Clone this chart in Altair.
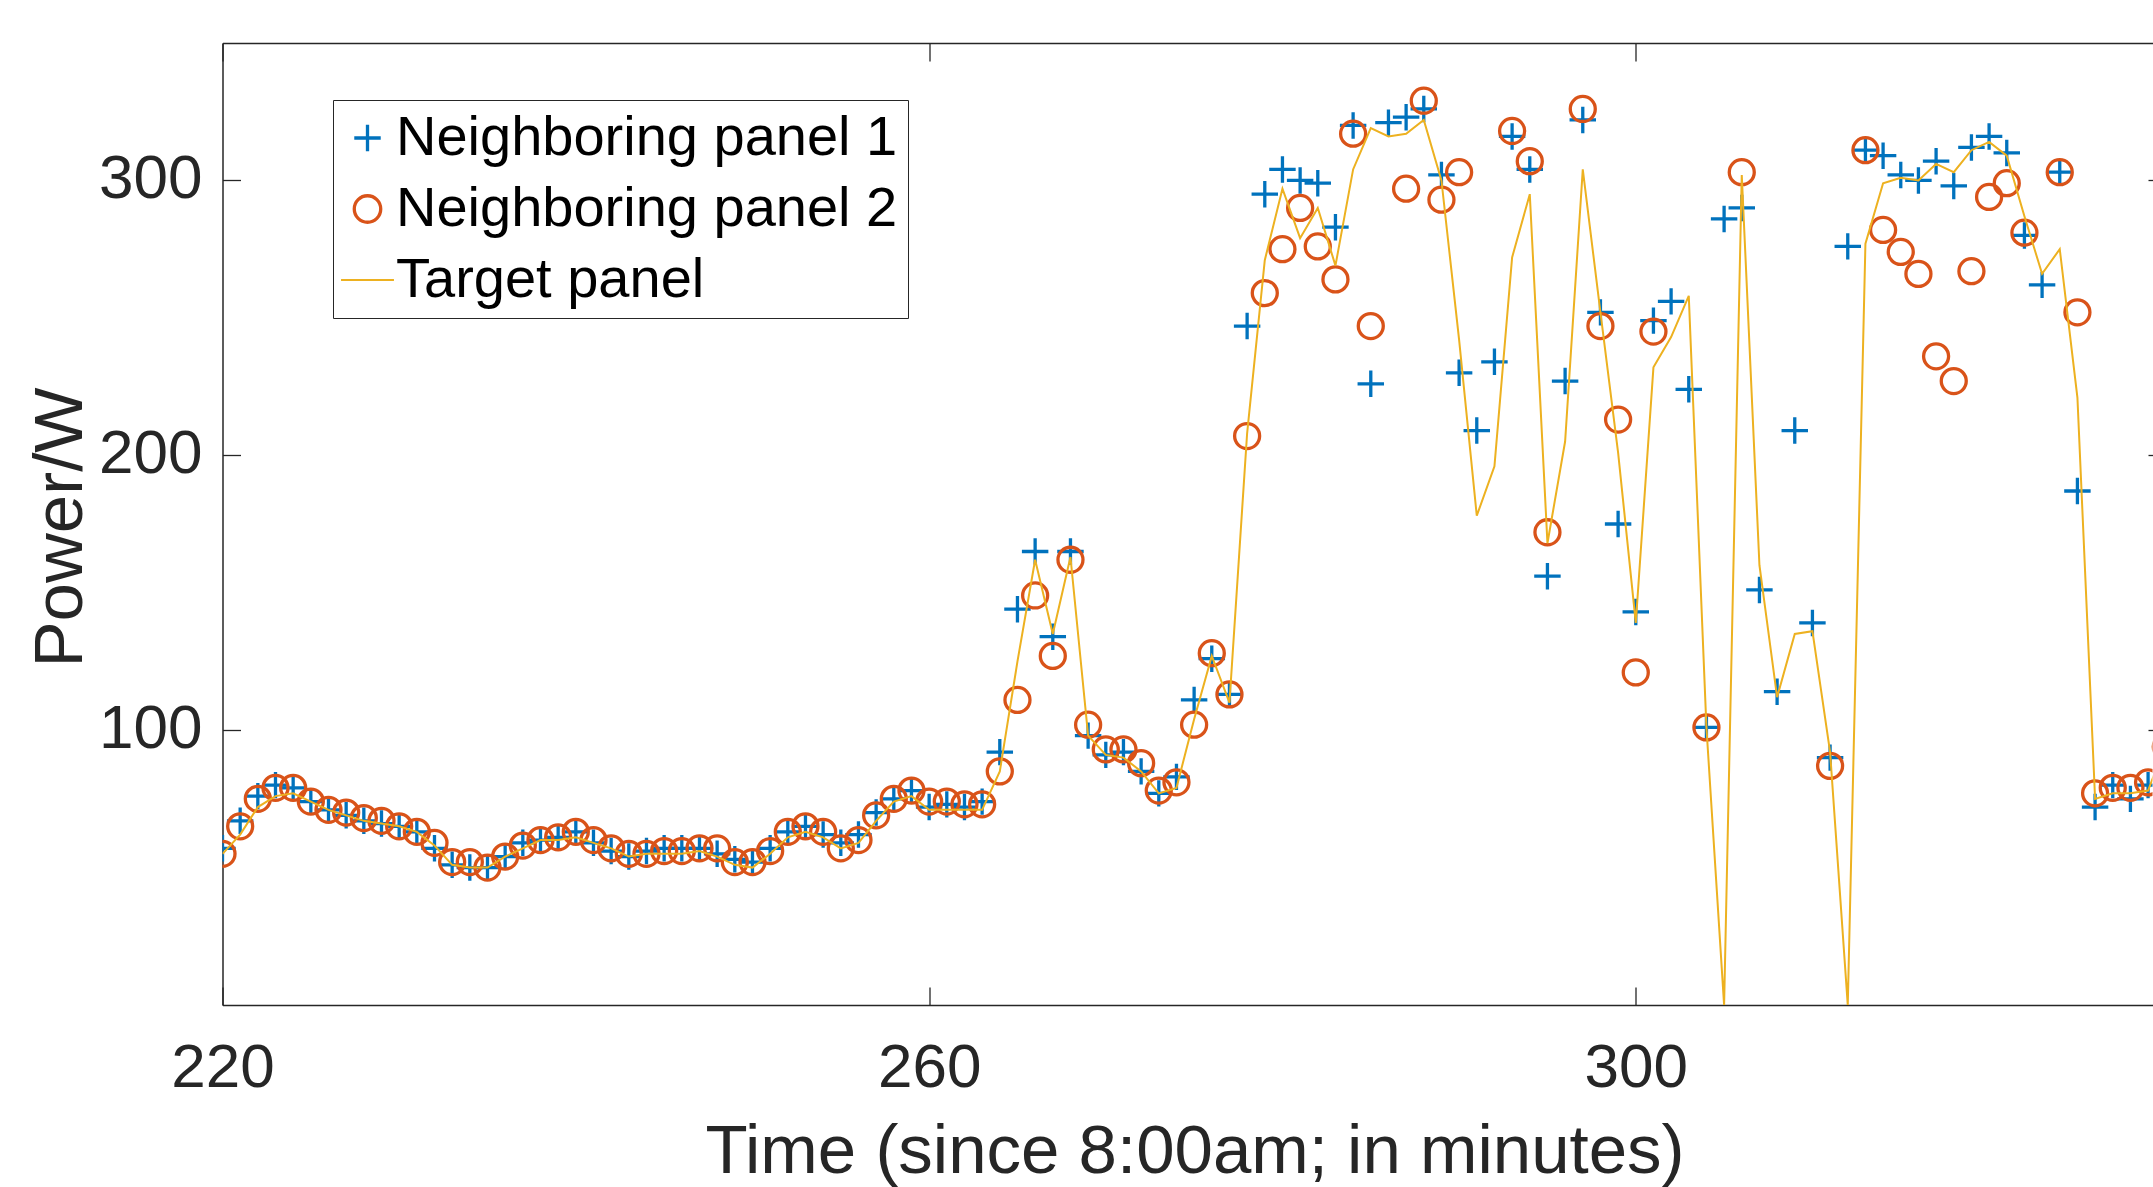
import altair as alt
import pandas as pd

minutes = list(range(220, 331))

names = ["Neighboring panel 1", "Neighboring panel 2", "Target panel"]

panel1 = [57, 67, 76, 80, 79, 74, 71, 69, 67, 66,
          65, 63, 57, 51, 50, 50, 54, 59, 60, 61,
          63, 59, 56, 54, 56, 57, 57, 57, 55, 53,
          52, 57, 63, 65, 62, 59, 62, 70, 75, 78,
          72, 73, 72, 74, 92, 144, 165, 134, 165, 98,
          91, 92, 85, 77, 83, 111, 126, 113, 247, 295,
          304, 300, 299, 283, 320, 226, 321, 323, 326, 302,
          230, 209, 234, 316, 304, 156, 227, 322, 252, 175,
          143, 249, 256, 224, 101, 286, 290, 151, 114, 209,
          139, 90, 276, 311, 309, 302, 300, 307, 298, 312,
          316, 310, 280, 262, 303, 187, 72, 80, 75, 80,
          None]

panel2 = [55, 65, 75, 79, 79, 74, 71, 70, 68, 67,
          65, 63, 59, 52, 52, 50, 54, 58, 60, 61,
          63, 60, 57, 55, 55, 56, 56, 57, 57, 52,
          52, 56, 63, 65, 63, 57, 60, 69, 75, 78,
          74, 74, 73, 73, 85, 111, 149, 127, 162, 102,
          93, 93, 88, 78, 81, 102, 128, 113, 207, 259,
          275, 290, 276, 264, 317, 247, None, 297, 329, 293,
          303, None, None, 318, 307, 172, None, 326, 247, 213,
          121, 245, None, None, 101, None, 303, None, None, None,
          None, 87, None, 311, 282, 274, 266, 236, 227, 267,
          294, 299, 281, None, 303, 252, 77, 79, 79, 81,
          94]

target = [55, 62, 72, 76, 77, 74, 71, 69, 67, 66,
          65, 63, 58, 51, 50, 50, 54, 57, 60, 60,
          61, 59, 57, 54, 55, 55, 55, 56, 54, 51,
          50, 55, 61, 63, 61, 57, 59, 67, 74, 76,
          71, 71, 71, 71, 85, 125, 162, 135, 163, 98,
          91, 90, 85, 77, 79, 104, 127, 110, 208, 271,
          297, 279, 290, 269, 304, 319, 316, 317, 322, 300,
          242, 178, 196, 272, 295, 168, 205, 304, 252, 201,
          139, 232, 243, 258, 101, 0, 302, 160, 112, 135,
          136, 92, 0, 277, 299, 301, 300, 306, 303, 311,
          314, 309, 287, 266, 275, 221, 75, 77, 77, 78,
          95]

x_ticks = [220, 260, 300]
y_ticks = [100, 200, 300]

colors = ["#0072BD", "#D95319", "#EDB120"]
shapes = ["M-1,0H1M0,-1V1", "circle", "M-2,0H2"]

rows = []
for name, vals in zip(names, [panel1, panel2, target]):
    for t, v in zip(minutes, vals):
        if v is not None:
            rows.append({"t": t, "power": v, "series": name})
df = pd.DataFrame(rows)

FONT = "Liberation Sans"
AX = "#262626"
W, H = 1930, 962

xscale = alt.Scale(domain=[220, 329.25], nice=False, zero=False)
yscale = alt.Scale(domain=[0, 350], nice=False, zero=False)
cscale = alt.Scale(domain=names, range=colors)
sscale = alt.Scale(domain=names, range=shapes)

common = dict(
    domainColor=AX, domainWidth=1.5, tickColor=AX, tickWidth=1.3,
    tickSize={"expr": "-18"}, grid=False,
    labelFont=FONT, labelFontSize=62, labelColor=AX,
    titleFont=FONT, titleFontSize=69, titleColor=AX, titleFontWeight="normal",
)

x_bottom = alt.Axis(
    orient="bottom", values=x_ticks, labelPadding=99, labelBaseline="alphabetic",
    labelFlush=False, labelAlign="center",
    title="Time (since 8:00am; in minutes)", titleX=972, titleY=167,
    titleAlign="center", titleBaseline="alphabetic", **common)
y_left = alt.Axis(
    orient="left", values=y_ticks, labelPadding=38.5, labelBaseline="middle",
    labelAlign="right", labelOffset=-2, title="Power/W", titleX=-141.5, titleY=484,
    titleAngle=270, titleAlign="center", titleBaseline="alphabetic", **common)
x_top = alt.Axis(orient="top", values=x_ticks, labels=False, title=None, **common)
y_right = alt.Axis(orient="right", values=y_ticks, labels=False, title=None,
                   domain=False, offset=13.5, **common)

legend = alt.Legend(
    title=None, orient="none", legendX=110.5, legendY=57, direction="vertical",
    padding=10, rowPadding=15, symbolSize=700, symbolOffset=-3.5,
    symbolStrokeWidth={"expr": "datum.value == 'Target panel' ? 2 : 3.3"},
    labelFont=FONT, labelFontSize=56, labelColor="#000000", labelOffset=0.5,
    labelLimit=1000, strokeColor=AX, fillColor="#FFFFFF",
)

base = alt.Chart(df)

plus_layer = base.transform_filter(alt.datum.series == names[0]).mark_point(
    filled=False, size=700, strokeWidth=3.3, opacity=1, clip=True
).encode(
    x=alt.X("t:Q", scale=xscale, axis=x_bottom),
    y=alt.Y("power:Q", scale=yscale, axis=y_left),
    color=alt.Color("series:N", scale=cscale, legend=legend),
    shape=alt.Shape("series:N", scale=sscale, legend=legend),
)

circle_layer = base.transform_filter(alt.datum.series == names[1]).mark_point(
    filled=False, size=625, strokeWidth=3.3, opacity=1, clip=True
).encode(
    x=alt.X("t:Q", scale=xscale, axis=None),
    y=alt.Y("power:Q", scale=yscale, axis=None),
    color=alt.Color("series:N", scale=cscale, legend=None),
    shape=alt.Shape("series:N", scale=sscale, legend=None),
)

line_layer = base.transform_filter(alt.datum.series == names[2]).mark_line(
    strokeWidth=2, clip=True
).encode(
    x=alt.X("t:Q", scale=xscale, axis=x_top),
    y=alt.Y("power:Q", scale=yscale, axis=y_right),
    color=alt.Color("series:N", scale=cscale, legend=None),
)

chart = alt.layer(plus_layer, circle_layer, line_layer).resolve_axis(
    x="independent", y="independent"
).properties(
    width=W, height=H,
    padding={"left": 222.5, "top": 43, "right": 0, "bottom": 182},
    autosize=alt.AutoSizeParams(type="none"),
    background="white",
).configure_view(stroke=None)

chart.save("out.html", embed_options={"renderer": "svg", "actions": False})
